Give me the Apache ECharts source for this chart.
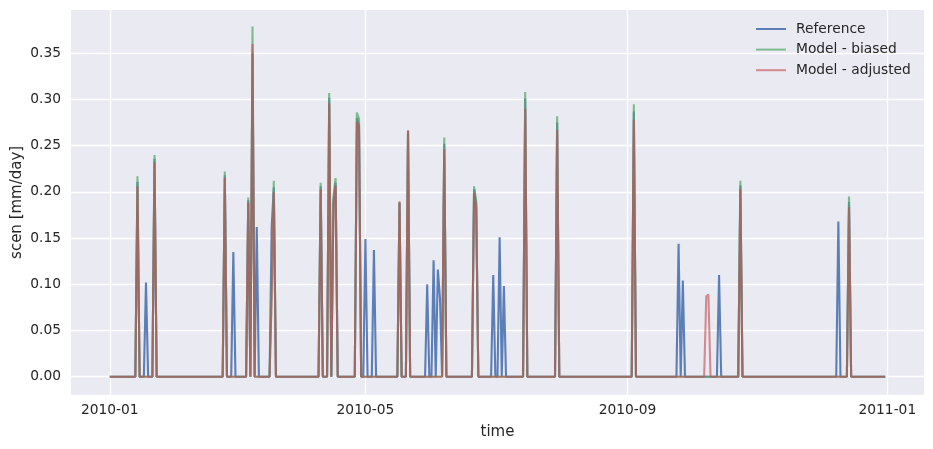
<!DOCTYPE html>
<html>
<head>
<meta charset="utf-8">
<script src="https://cdn.jsdelivr.net/npm/echarts@6/dist/echarts.min.js"></script>
<style>
html,body{margin:0;padding:0;background:#fff;}
#chart{width:933px;height:449px;}
</style>
</head>
<body>
<div id="chart"></div>
<script>
// Day index 0 = 2010-01-01; 365 daily values, zero except on the days listed
const nDays = 365;
const referenceSpikes = [
  [13,0.211],[17,0.102],[21,0.236],[54,0.218],[58,0.135],[65,0.191],[67,0.350],[69,0.162],
  [76,0.162],[77,0.205],[99,0.206],[103,0.302],[105,0.190],[106,0.210],[116,0.280],[117,0.273],
  [120,0.149],[124,0.137],[136,0.188],[140,0.265],[149,0.100],[152,0.126],[154,0.116],[155,0.085],
  [157,0.252],[171,0.203],[172,0.187],[180,0.110],[183,0.151],[185,0.098],[195,0.301],[210,0.275],
  [246,0.287],[267,0.144],[269,0.104],[286,0.110],[296,0.207],[342,0.168],[347,0.189]
];
const biasedSpikes = [
  [13,0.217],[21,0.240],[54,0.222],[65,0.194],[67,0.379],[76,0.090],[77,0.212],[99,0.210],
  [103,0.307],[105,0.195],[106,0.215],[116,0.286],[117,0.279],[136,0.189],[140,0.266],[157,0.259],
  [171,0.206],[172,0.190],[195,0.308],[210,0.282],[246,0.295],[296,0.212],[347,0.195]
];
const adjustedSpikes = [
  [13,0.206],[21,0.232],[54,0.215],[65,0.188],[67,0.360],[76,0.087],[77,0.200],[99,0.203],
  [103,0.296],[105,0.187],[106,0.207],[116,0.276],[117,0.270],[136,0.190],[140,0.267],[157,0.246],
  [171,0.199],[172,0.183],[195,0.290],[210,0.267],[246,0.278],[280,0.087],[281,0.089],[296,0.203],[347,0.183]
];
const xTickDays = [0, 120, 243, 365];
const xTickLabels = ['2010-01', '2010-05', '2010-09', '2011-01'];
const yTicks = [0, 0.05, 0.10, 0.15, 0.20, 0.25, 0.30, 0.35];
const seriesNames = ['Reference', 'Model - biased', 'Model - adjusted'];

function daily(spikes) {
  const arr = [];
  for (let d = 0; d < nDays; d++) arr.push([d, 0]);
  spikes.forEach(function (s) { arr[s[0]][1] = s[1]; });
  return arr;
}

const colors = ['rgba(76,114,176,0.9)', 'rgba(85,168,104,0.72)', 'rgba(196,78,82,0.62)'];
const datasets = [daily(referenceSpikes), daily(biasedSpikes), daily(adjustedSpikes)];

const chart = echarts.init(document.getElementById('chart'), null, {renderer: 'canvas'});
const font = 'DejaVu Sans';
chart.setOption({
  animation: false,
  backgroundColor: '#ffffff',
  grid: {left: 71, right: 9, top: 10, bottom: 54.3, show: true, backgroundColor: '#EAEAF2', borderWidth: 0,
         containLabel: false, outerBoundsMode: 'none'},
  legend: {
    orient: 'vertical', left: 756, top: 22, padding: 0,
    icon: 'rect', itemWidth: 30, itemHeight: 2, itemGap: 6.6,
    data: seriesNames,
    textStyle: {fontFamily: font, fontSize: 13.8, lineHeight: 14, color: '#262626', padding: [0, 0, 0, 5]}
  },
  xAxis: {
    type: 'value', min: -18.2, max: 382.2,
    name: 'time', nameLocation: 'middle', nameGap: 30, nameMoveOverlap: false,
    nameTextStyle: {fontFamily: font, fontSize: 15, color: '#262626'},
    axisLine: {show: false},
    axisTick: {show: false, customValues: xTickDays},
    axisLabel: {
      customValues: xTickDays, margin: 9,
      fontFamily: font, fontSize: 13.8, color: '#262626',
      formatter: function (v) { const i = xTickDays.indexOf(Math.round(v)); return i >= 0 ? xTickLabels[i] : ''; }
    },
    splitLine: {show: true, lineStyle: {color: '#ffffff', width: 1.3}}
  },
  yAxis: {
    type: 'value', min: -0.0195, max: 0.3969,
    name: 'scen [mm/day]', nameLocation: 'middle', nameGap: 46, nameMoveOverlap: false,
    nameTextStyle: {fontFamily: font, fontSize: 15, color: '#262626'},
    axisLine: {show: false},
    axisTick: {show: false, customValues: yTicks},
    axisLabel: {
      customValues: yTicks, margin: 10,
      fontFamily: font, fontSize: 13.8, color: '#262626',
      formatter: function (v) { return v.toFixed(2); }
    },
    splitLine: {show: true, lineStyle: {color: '#ffffff', width: 1.3}}
  },
  series: seriesNames.map(function (name, i) {
    return {
      name: name, type: 'line', data: datasets[i],
      showSymbol: false, symbol: 'none',
      color: colors[i],
      lineStyle: {color: colors[i], width: 2.1}
    };
  })
});
</script>
</body>
</html>
